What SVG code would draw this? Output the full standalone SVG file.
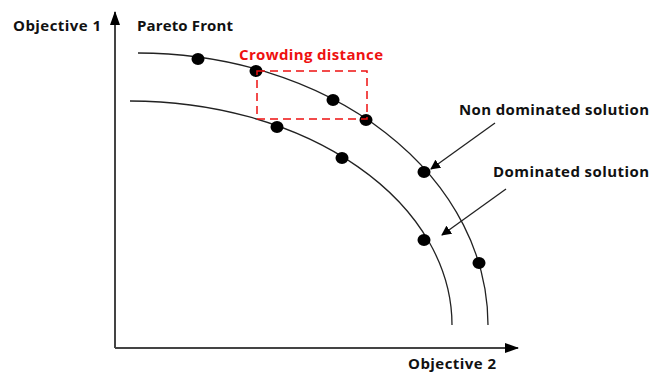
<svg xmlns="http://www.w3.org/2000/svg" width="650" height="372" viewBox="0 0 650 372">
<style>
.lbl{font-family:"Open Sans","Liberation Sans",sans-serif;font-weight:bold;font-size:15px;fill:#111}
.red{fill:#ee1111}
.curve{fill:none;stroke:#222;stroke-width:1.3}
.dot{fill:#000}
.axis{stroke:#444;stroke-width:2;fill:none}
.ptr{stroke:#222;stroke-width:1.3;fill:none}
</style>
<defs>
<marker id="ah" viewBox="0 0 10 10" refX="9" refY="5" markerWidth="10" markerHeight="10" markerUnits="userSpaceOnUse" orient="auto">
<path d="M0,0 L10,5 L0,10 Z" fill="#000"/>
</marker>
<marker id="axh" viewBox="0 0 14 10" refX="13" refY="5" markerWidth="14" markerHeight="10" markerUnits="userSpaceOnUse" orient="auto">
<path d="M0,0 L14,5 L0,10 Z" fill="#000"/>
</marker>
</defs>
<g id="axes">
<path class="axis" d="M115,348 L115,12" marker-end="url(#axh)"/>
<path class="axis" d="M115,348 L518,348" marker-end="url(#axh)"/>
<text class="lbl" x="13" y="31" textLength="88">Objective 1</text>
<text class="lbl" x="408" y="369" textLength="88">Objective 2</text>
</g>
<g id="front-outer">
<path class="curve" d="M138,53 A350,272 0 0 1 488,325"/>
<text class="lbl" x="137" y="31" textLength="96">Pareto Front</text>
</g>
<g id="front-inner">
<path class="curve" d="M130,101 A322,224 0 0 1 452,325"/>
</g>
<g id="dots">
<ellipse class="dot" cx="198" cy="59" rx="6.5" ry="6"/>
<ellipse class="dot" cx="256" cy="71" rx="6.5" ry="6"/>
<ellipse class="dot" cx="333" cy="100" rx="6.5" ry="6"/>
<ellipse class="dot" cx="366" cy="120" rx="6.5" ry="6"/>
<ellipse class="dot" cx="424" cy="172" rx="6.5" ry="6"/>
<ellipse class="dot" cx="479" cy="263" rx="6.5" ry="6"/>
<ellipse class="dot" cx="277" cy="127" rx="6.5" ry="6"/>
<ellipse class="dot" cx="342" cy="158" rx="6.5" ry="6"/>
<ellipse class="dot" cx="424" cy="240" rx="6.5" ry="6"/>
</g>
<g id="crowding">
<rect x="257" y="71" width="110" height="48" fill="none" stroke="#ee1111" stroke-width="1.5" stroke-dasharray="8,5"/>
<text class="lbl red" x="239" y="60" textLength="144">Crowding distance</text>
</g>
<g id="connectors">
<line class="ptr" x1="495" y1="123" x2="431" y2="169" marker-end="url(#ah)"/>
<line class="ptr" x1="506" y1="189" x2="442" y2="235" marker-end="url(#ah)"/>
</g>
<g id="label-nondominated">
<text class="lbl" x="459" y="115" textLength="190">Non dominated solution</text>
</g>
<g id="label-dominated">
<text class="lbl" x="493" y="177" textLength="156">Dominated solution</text>
</g>
</svg>
